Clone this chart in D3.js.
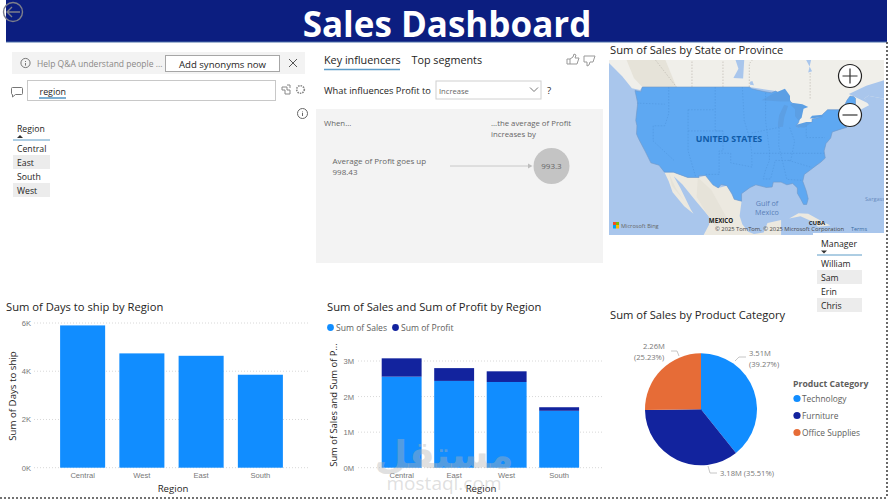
<!DOCTYPE html>
<html>
<head>
<meta charset="utf-8">
<script src="https://cdn.jsdelivr.net/npm/d3@7/dist/d3.min.js"></script>
<style>
html,body{margin:0;padding:0;background:#fff}
svg{display:block;font-family:"Open Sans","Noto Sans",sans-serif}
</style>
</head>
<body>
<svg id="dash" width="890" height="500"></svg>
<script>
// Shared category data
const shipRegions = ["Central", "West", "East", "South"];
const shipDays = [5900, 4740, 4640, 3855];
const shipTicks = [0, 2000, 4000, 6000];

const salesRegions = ["Central", "East", "West", "South"];
const salesValues = [2560000, 2440000, 2410000, 1600000];
const profitValues = [515000, 360000, 300000, 100000];
const salesTicks = [0, 1000000, 2000000, 3000000];

const pieCategories = ["Technology", "Furniture", "Office Supplies"];
const pieValues = [39.27, 35.51, 25.23];
const pieLabels = [["3.51M", "(39.27%)"], ["3.18M (35.51%)"], ["2.26M", "(25.23%)"]];

const regionRows = ["Central", "East", "South", "West"];
const managerRows = ["William", "Sam", "Erin", "Chris"];

// Map outlines, longitude then latitude
const usOutline = [[-124.7,48.4],[-123.2,48.2],[-122.8,49],[-95.2,49],[-94.6,48.7],[-92,48.3],[-89.5,48],[-88.4,48.3],[-84.9,46.9],[-84.5,46.4],[-83.5,45.9],[-82.5,45.3],[-82.1,43.6],[-82.5,42.6],[-83.1,42],[-82.7,41.7],[-79,42.7],[-79,43.3],[-76.8,43.6],[-76.2,44.2],[-75,45],[-71.5,45],[-70.8,45.4],[-70.3,46.2],[-70,46.7],[-69.2,47.45],[-68.3,47.35],[-67.8,47.05],[-67.8,45.7],[-67,44.9],[-68.5,44.3],[-70,43.7],[-70.7,43],[-70.8,42.2],[-70,41.7],[-71.4,41.4],[-73.8,40.8],[-74.2,39.6],[-75.4,38.5],[-75.9,37],[-75.6,35.5],[-76.8,34.6],[-78,33.9],[-79.4,33],[-81,32],[-81.4,30.5],[-80.5,28.3],[-80,26.5],[-80.4,25.2],[-81.2,25.2],[-81.9,26.4],[-82.8,27.8],[-82.8,29],[-84,30],[-85.5,29.7],[-87,30.3],[-89,30.3],[-89.3,29.2],[-90.8,29.1],[-93.5,29.7],[-95,29.1],[-97.2,27.7],[-97.2,25.95],[-99.1,26.4],[-99.6,27.6],[-101,29.5],[-102.5,29.75],[-103.2,29],[-104.6,29.7],[-106.5,31.75],[-108.2,31.75],[-108.2,31.33],[-111.1,31.33],[-114.8,32.5],[-117.1,32.5],[-118.5,34],[-120.6,34.5],[-122,36.8],[-123.8,39.5],[-124.3,40.4],[-124.2,42],[-124.5,43],[-124,46.2],[-124.7,48.4]];
const canadaLand = [[-135,62],[-60,62],[-60,46.9],[-64.5,47.5],[-65.5,47],[-64.3,45.8],[-66.5,45],[-67,44.9],[-67.8,45.7],[-67.8,47.05],[-70,46.7],[-71.5,45],[-75,45],[-76.8,43.6],[-79,43.3],[-79,42.7],[-83,42],[-82.1,43.6],[-82.5,45.3],[-84.5,46.4],[-88.4,48.3],[-95.2,49],[-122.8,49],[-123.4,48.5],[-125.5,48.8],[-128,50.8],[-135,55]];
const mexicoLand = [[-117.1,32.5],[-114.8,32.5],[-111.1,31.33],[-108.2,31.33],[-106.5,31.75],[-103.2,29],[-101,29.5],[-99.1,26.4],[-97.2,25.95],[-97.7,22.5],[-97,20.5],[-95.5,18.7],[-94,18.1],[-91.5,18.5],[-90.5,20.8],[-87,21.5],[-87,16],[-108,16],[-105.6,20.4],[-105.3,22],[-109,26],[-112.5,29.8],[-114.7,31.6],[-113,29],[-110.3,24],[-109.6,23],[-112,24.8],[-115,28],[-116,30.5]];
const cubaLand = [[-84.9,21.9],[-82.5,23.1],[-80,23],[-76,21],[-74.2,20.2],[-77.5,19.9],[-78.5,21],[-82,22.4]];
const reliefAreas = [
  [[-128,55],[-118,55],[-114,49],[-122.8,49],[-125,50.5]],
  [[-108.5,31.3],[-105,28.5],[-101,22],[-104,20],[-106.5,23.5],[-108.8,27]],
  [[-116,32.4],[-114.2,29],[-110.5,24],[-111.5,25.5],[-115.2,29.5]]
];
const greatLakes = [
  [[-92,46.7],[-89,47.9],[-86,48.7],[-84.7,47.5],[-84.7,46.5],[-87,46.5]],
  [[-87.8,41.7],[-86.5,41.8],[-86.2,43.5],[-85.2,45.7],[-86.2,45.9],[-87.5,44],[-87.8,42.5]],
  [[-84.6,45.9],[-83.4,45.1],[-83.4,43.8],[-82.5,43],[-81.7,43.5],[-81.2,45.2],[-80,45.5],[-81.5,46],[-83.8,46.2]],
  [[-83.2,41.8],[-81,41.6],[-79,42.7],[-80.5,42.7],[-83,42.2]],
  [[-79.6,43.4],[-76.3,43.6],[-76.3,44.1],[-79,43.9]]
];
const canadaLakes = [
  [[-99.3,50.5],[-96.8,50.4],[-96.5,53.5],[-99,53.8],[-98,52]],
  [[-95,49.4],[-94,49.3],[-94.4,50],[-95,49.9]],
  [[-80,51.4],[-79,51.6],[-82,55],[-85,56],[-88,57],[-93,58.5],[-94.5,62],[-78,62],[-77,56],[-79,54]],
  [[-69.5,47.8],[-65,49.2],[-60,50.2],[-60,46.9],[-64.5,47.5],[-65.5,47],[-64,46]]
];
const stateBorders = [
  [[-116,49],[-116,44.3],[-117,42],[-120,42],[-120,39],[-114.6,35]],
  [[-111,45],[-111,37],[-109,31.33]],
  [[-104,49],[-104,41],[-102,41],[-102,37],[-103,37],[-103,32],[-106.5,32]],
  [[-97,49],[-96.5,43],[-95.3,40],[-94.6,37],[-94.5,33.6],[-100,34.5],[-100,36.5],[-103,36.5]],
  [[-91,48],[-91,43],[-90,37],[-90,35],[-91,33],[-91.6,31],[-89.7,31],[-88.5,35],[-84.5,35],[-83.5,39],[-84.8,41.7]],
  [[-111,41],[-102,41]],[[-124.2,46.2],[-117,46]],[[-111,45],[-104,45]],[[-94.6,40.6],[-87.5,41.7]],
  [[-87.5,41.7],[-87.6,38],[-85.5,30.9],[-81.4,30.7]],[[-80.5,42],[-80.5,39.7],[-75.7,39.7]],[[-94,36.5],[-76,36.5]],[[-85,35],[-79,33.5]]
];
const canadaBorders = [
  [[-110,49],[-110,60]],[[-102,49],[-102,60]],[[-95.2,49],[-95.2,52.8],[-89,57]],
  [[-79.5,47],[-79.5,51.4]],[[-120,60],[-120,53.8],[-114,49]]
];

// Layout of the report tiles
const C = {navy:"#0c1e80", blue:"#118dff", dark:"#12239e", orange:"#e66c37", title:"#252423", axis:"#605e5c", grey:"#666", tile:"#f3f3f3", alt:"#ececec", line:"#5d9cc7"};
const svg = d3.select("#dash");
const txt = (x, y, s, size, fill, extra = {}) => {
  const t = svg.append("text").attr("x", x).attr("y", y).attr("font-size", size).attr("fill", fill).text(s);
  Object.entries(extra).forEach(([k, v]) => t.attr(k, v));
  return t;
};

// Banner
svg.append("rect").attr("x", 6).attr("y", 0).attr("width", 881).attr("height", 42).attr("fill", C.navy);
svg.append("line").attr("x1", 6).attr("x2", 887).attr("y1", 42).attr("y2", 42).attr("stroke", "#4a6fa8").attr("stroke-width", 1);
txt(447, 37, "Sales Dashboard", 35, "#fff", {"text-anchor": "middle", "font-weight": 700, "font-family": "'Open Sans'"});
const back = svg.append("g").attr("fill", "none").attr("stroke", "#7d7f8a").attr("stroke-width", 1.4);
back.append("circle").attr("cx", 13).attr("cy", 12).attr("r", 9.5);
back.append("path").attr("d", "M20 12H7M12 7l-5 5 5 5");

// Dotted page edges
const dotted = (x1, y1, x2, y2) => svg.append("line").attr("x1", x1).attr("y1", y1).attr("x2", x2).attr("y2", y2)
  .attr("stroke", "#444").attr("stroke-width", 1.6).attr("stroke-dasharray", "2 2");
dotted(0, 498, 888, 498);
dotted(887, 42, 887, 498);

// Q&A tile
svg.append("rect").attr("x", 12).attr("y", 52).attr("width", 293).attr("height", 22).attr("fill", C.tile);
svg.append("circle").attr("cx", 25.5).attr("cy", 63).attr("r", 4.6).attr("fill", "none").attr("stroke", "#777");
svg.append("path").attr("d", "M25.5 61v1M25.5 63v2.6").attr("stroke", "#777");
txt(37, 67, "Help Q&A understand people ...", 8.5, "#8a8886");
svg.append("rect").attr("x", 165.5).attr("y", 55.5).attr("width", 114).attr("height", 16).attr("fill", "#fff").attr("stroke", "#a6a6a6");
txt(222.5, 67.5, "Add synonyms now", 9.6, C.title, {"text-anchor": "middle"});
svg.append("path").attr("d", "M289 59l8 8M297 59l-8 8").attr("stroke", "#555").attr("fill", "none");
svg.append("path").attr("d", "M12.5 87.5h9a1 1 0 0 1 1 1v5a1 1 0 0 1-1 1h-6l-3 2.5v-2.5a1 1 0 0 1-1-1v-5a1 1 0 0 1 1-1z").attr("fill", "none").attr("stroke", "#777");
svg.append("rect").attr("x", 27.5).attr("y", 80.5).attr("width", 248).attr("height", 20).attr("fill", "#fff").attr("stroke", "#c8c8c8");
txt(39.5, 95, "region", 8.9, C.title);
svg.append("line").attr("x1", 39).attr("x2", 66).attr("y1", 98).attr("y2", 98).attr("stroke", C.line).attr("stroke-width", 1.6);
svg.append("path").attr("d", "M282 87h5v3h3v4h-5v-4M282 87v3h3M287 85h3v3").attr("fill", "none").attr("stroke", "#888");
svg.append("circle").attr("cx", 300.5).attr("cy", 89.5).attr("r", 3.8).attr("fill", "none").attr("stroke", "#888").attr("stroke-width", 1.6).attr("stroke-dasharray", "1.5 1");
svg.append("circle").attr("cx", 302.5).attr("cy", 113.5).attr("r", 5).attr("fill", "none").attr("stroke", "#666");
svg.append("path").attr("d", "M302.5 111.5v.8M302.5 113v3").attr("stroke", "#666");

// Key influencers tile
txt(324, 64, "Key influencers", 10.8, C.title);
txt(411.5, 64, "Top segments", 10.8, C.title);
svg.append("line").attr("x1", 324).attr("x2", 400).attr("y1", 69.5).attr("y2", 69.5).attr("stroke", C.line).attr("stroke-width", 1.6);
svg.append("path").attr("d", "M567 59h3v5h-3zM570 59l3-2 1-3 2 1-1 3h4l-2 6h-7").attr("fill", "none").attr("stroke", "#999");
svg.append("path").attr("d", "M584 56h11l-2 6h-3l-1 3-2 1v-4h-3z").attr("fill", "none").attr("stroke", "#999");
txt(324, 94, "What influences Profit to", 9.3, C.title);
svg.append("rect").attr("x", 436).attr("y", 81).attr("width", 105).attr("height", 18).attr("fill", "#fff").attr("stroke", "#d0d0d0");
txt(439, 93.5, "Increase", 7.6, "#666");
svg.append("path").attr("d", "M530 87.5l4 4 4-4").attr("fill", "none").attr("stroke", "#777");
txt(547, 94, "?", 9.6, C.title);
svg.append("rect").attr("x", 316).attr("y", 109).attr("width", 287).attr("height", 154).attr("fill", C.tile);
txt(324, 126, "When...", 7.8, "#666");
txt(491, 126, "...the average of Profit", 7.8, "#666");
txt(491, 137, "increases by", 7.8, "#666");
txt(332.5, 164, "Average of Profit goes up", 8, "#666");
txt(332.5, 175, "998.43", 8, "#666");
svg.append("line").attr("x1", 450).attr("x2", 530).attr("y1", 166).attr("y2", 166).attr("stroke", "#c8c8c8");
svg.append("path").attr("d", "M528 163.5l4.5 2.5-4.5 2.5z").attr("fill", "#bdbdbd");
svg.append("circle").attr("cx", 551.5).attr("cy", 166).attr("r", 18).attr("fill", "#c4c4c4");
txt(551.5, 169, "993.3", 8, "#666", {"text-anchor": "middle"});

// Map tile, drawn in a Mercator projection
txt(610, 54, "Sum of Sales by State or Province", 11.2, C.title);
svg.append("clipPath").attr("id", "mapClip").append("rect").attr("x", 609).attr("y", 60).attr("width", 275).attr("height", 175);
const mapG = svg.append("g").attr("clip-path", "url(#mapClip)");
const mercator = d3.geoMercator().scale(222).center([-124.7, 49]).translate([635, 87]);
const ring = pts => d3.line().curve(d3.curveLinearClosed)(pts.map(d => mercator(d)));
const open = pts => d3.line()(pts.map(d => mercator(d)));
mapG.append("rect").attr("x", 609).attr("y", 60).attr("width", 275).attr("height", 175).attr("fill", "#a9c6ec");
mapG.append("path").attr("d", ring(canadaLand)).attr("fill", "#f0efea");
mapG.append("path").attr("d", ring(mexicoLand)).attr("fill", "#ece9e0");
mapG.append("path").attr("d", ring(cubaLand)).attr("fill", "#ece9e0");
reliefAreas.forEach(a => mapG.append("path").attr("d", ring(a)).attr("fill", "#e6e3d9"));
canadaLakes.forEach(l => mapG.append("path").attr("d", ring(l)).attr("fill", "#a9c6ec"));
canadaBorders.forEach(b => mapG.append("path").attr("d", open(b)).attr("fill", "none").attr("stroke", "#bdb9b0").attr("stroke-width", .7).attr("stroke-dasharray", "1.5 1.5"));
mapG.append("path").attr("d", ring(usOutline)).attr("fill", "#5ea8f2").attr("stroke", "#6f97c8").attr("stroke-width", .6);
greatLakes.forEach(l => mapG.append("path").attr("d", ring(l)).attr("fill", "#5c9fe4"));
stateBorders.forEach(b => mapG.append("path").attr("d", open(b)).attr("fill", "none").attr("stroke", "#4f95dd").attr("stroke-width", .6).attr("stroke-dasharray", "1.5 1.5"));
txt(729, 142, "UNITED STATES", 8.8, "#0f5ba8", {"text-anchor": "middle", "font-weight": 700});
txt(767, 206, "Gulf of", 7.2, "#5a7fb8", {"text-anchor": "middle"});
txt(767, 214.5, "Mexico", 7.2, "#5a7fb8", {"text-anchor": "middle"});
txt(721, 223, "MEXICO", 6.2, "#222", {"text-anchor": "middle", "font-weight": 700});
txt(817, 225, "CUBA", 6, "#222", {"text-anchor": "middle", "font-weight": 700});
txt(865, 201, "Sargasso", 5.6, "#6a8cc0", {"clip-path": "url(#mapClip)"});
txt(715, 231, "© 2025 TomTom, © 2025 Microsoft Corporation", 5.8, "#444");
txt(851, 231, "Terms", 5.5, "#3a6ea5");
[["#f25022",613,222],["#7fba00",616,222],["#00a4ef",613,225],["#ffb900",616,225]].forEach(([c, x, y]) =>
  mapG.append("rect").attr("x", x).attr("y", y).attr("width", 3).attr("height", 3.5).attr("fill", c));
txt(621, 228, "Microsoft Bing", 5.6, "#666");
[[850, 76, true], [850, 115, false]].forEach(([x, y, plus]) => {
  svg.append("circle").attr("cx", x).attr("cy", y).attr("r", 11.5).attr("fill", "#fff").attr("stroke", "#222").attr("stroke-width", 1.2);
  svg.append("path").attr("d", plus ? `M${x-7.5} ${y}h15M${x} ${y-7.5}v15` : `M${x-7.5} ${y}h15`).attr("stroke", "#333").attr("stroke-width", 1.2);
});

// Slicer-style tables
function slicer(header, rows, x, w, y, textX, caret) {
  txt(textX, y, header, 8.7, C.title);
  svg.append("path").attr("d", caret).attr("fill", "#333");
  svg.append("line").attr("x1", x).attr("x2", x + w).attr("y1", y + 8).attr("y2", y + 8).attr("stroke", C.line);
  const rowH = 14;
  rows.forEach((r, i) => {
    const top = y + 9 + i * rowH;
    if (i % 2) svg.append("rect").attr("x", x).attr("y", top).attr("width", w).attr("height", rowH).attr("fill", C.alt);
    txt(textX, top + 10.5, r, 8.7, C.title);
  });
}
svg.append("rect").attr("x", 813).attr("y", 233).attr("width", 71).attr("height", 3).attr("fill", "#fff");
slicer("Region", regionRows, 13, 37, 132, 17, "M17 138l3-3 3 3z");
slicer("Manager", managerRows, 817, 45, 247, 821, "M821 250.5h6l-3 3z");

// Shared axis styling for both column charts
function styleAxes(g) {
  g.selectAll(".domain").remove();
  g.selectAll(".tick line").remove();
  g.selectAll("text").attr("fill", "#777").attr("font-size", 7.6);
}
const fmtK = d => (d / 1000) + "K";
const fmtM = d => (d / 1000000) + "M";

// Sum of Days to ship by Region
txt(6, 311, "Sum of Days to ship by Region", 11.2, C.title);
const x1 = d3.scaleBand().domain(shipRegions).range([53, 290]).paddingInner(0.24).paddingOuter(0.12);
const y1 = d3.scaleLinear().domain([0, 6000]).range([467.7, 323]);
const g1 = svg.append("g");
shipTicks.forEach(t => g1.append("line").attr("x1", 34).attr("x2", 309).attr("y1", y1(t)).attr("y2", y1(t)).attr("stroke", "#d8d8d8").attr("stroke-dasharray", "1 2"));
g1.selectAll("rect").data(shipRegions).join("rect").attr("x", d => x1(d)).attr("width", x1.bandwidth())
  .attr("y", (d, i) => y1(shipDays[i])).attr("height", (d, i) => y1(0) - y1(shipDays[i])).attr("fill", C.blue);
svg.append("g").attr("transform", "translate(31,0)").call(d3.axisLeft(y1).tickValues(shipTicks).tickFormat(fmtK).tickSize(0).tickPadding(0)).call(styleAxes);
svg.append("g").attr("transform", "translate(0,468)").call(d3.axisBottom(x1).tickSize(0).tickPadding(5)).call(styleAxes);
txt(173, 492, "Region", 9.6, C.title, {"text-anchor": "middle"});
txt(16, 396, "Sum of Days to ship", 9.7, C.title, {"text-anchor": "middle", transform: "rotate(-90 16 396)"});

// Sum of Sales and Sum of Profit by Region
txt(327, 311, "Sum of Sales and Sum of Profit by Region", 11.2, C.title);
svg.append("circle").attr("cx", 330.5).attr("cy", 327.5).attr("r", 3.4).attr("fill", C.blue);
txt(336, 331, "Sum of Sales", 8.6, C.axis);
svg.append("circle").attr("cx", 395.5).attr("cy", 327.5).attr("r", 3.4).attr("fill", C.dark);
txt(401, 331, "Sum of Profit", 8.6, C.axis);
const x2 = d3.scaleBand().domain(salesRegions).range([375.4, 585.4]).paddingInner(0.24).paddingOuter(0.12);
const y2 = d3.scaleLinear().domain([0, 3000000]).range([467.7, 361]);
const g2 = svg.append("g");
salesTicks.forEach(t => g2.append("line").attr("x1", 358).attr("x2", 602).attr("y1", y2(t)).attr("y2", y2(t)).attr("stroke", "#d8d8d8").attr("stroke-dasharray", "1 2"));
g2.selectAll("rect.sales").data(salesRegions).join("rect").attr("class", "sales").attr("x", d => x2(d)).attr("width", x2.bandwidth())
  .attr("y", (d, i) => y2(salesValues[i])).attr("height", (d, i) => y2(0) - y2(salesValues[i])).attr("fill", C.blue);
g2.selectAll("rect.profit").data(salesRegions).join("rect").attr("class", "profit").attr("x", d => x2(d)).attr("width", x2.bandwidth())
  .attr("y", (d, i) => y2(salesValues[i] + profitValues[i])).attr("height", (d, i) => y2(0) - y2(profitValues[i])).attr("fill", C.dark);
svg.append("g").attr("transform", "translate(354,0)").call(d3.axisLeft(y2).tickValues(salesTicks).tickFormat(fmtM).tickSize(0).tickPadding(0)).call(styleAxes);
svg.append("g").attr("transform", "translate(0,468)").call(d3.axisBottom(x2).tickSize(0).tickPadding(5)).call(styleAxes);
txt(481, 492, "Region", 9.6, C.title, {"text-anchor": "middle"});
txt(337, 405, "Sum of Sales and Sum of P...", 9.4, C.title, {"text-anchor": "middle", transform: "rotate(-90 337 405)"});

// Site watermark laid over the lower chart
const mark = svg.append("g").attr("fill", "#b4b4b4").attr("fill-opacity", .42).attr("text-anchor", "middle");
mark.append("text").attr("x", 444).attr("y", 468).attr("font-size", 38).attr("font-weight", 700).attr("font-family", "'Noto Sans','DejaVu Sans'").text("مستقل");
mark.append("text").attr("x", 444).attr("y", 490).attr("font-size", 19).text("mostaql.com");

// Sum of Sales by Product Category
txt(610, 319, "Sum of Sales by Product Category", 11.2, C.title);
const pieCx = 701, pieCy = 409.3, pieR = 56;
const pie = d3.pie().sort(null).value(d => d)(pieValues);
const arc = d3.arc().innerRadius(0).outerRadius(pieR);
const colors = d3.scaleOrdinal().domain(pieCategories).range([C.blue, C.dark, C.orange]);
svg.append("g").attr("transform", `translate(${pieCx},${pieCy})`).selectAll("path").data(pie).join("path")
  .attr("d", arc).attr("fill", (d, i) => colors(pieCategories[i]));
const leaders = [
  {path: [[735, 361], [739, 357], [746, 357]], lines: pieLabels[0], x: 749, y: 356, step: 11},
  {path: [[708, 466], [710, 473], [717, 473]], lines: pieLabels[1], x: 720, y: 476, step: 0},
  {path: [[679, 356], [677, 351], [671, 351]], lines: pieLabels[2], x: 634, y: 349, step: 11}
];
leaders.forEach(l => {
  svg.append("path").attr("d", d3.line()(l.path)).attr("fill", "none").attr("stroke", "#c6c6c6");
  l.lines.forEach((s, i) => {
    txt(l.x + (l.lines.length > 1 && l.x < 700 && !i ? 9 : 0), l.y + i * l.step, s, 7.6, "#777");
  });
});
txt(793, 387, "Product Category", 8.7, C.axis, {"font-weight": 700});
pieCategories.forEach((c, i) => {
  const yy = 398.5 + i * 17;
  svg.append("circle").attr("cx", 797).attr("cy", yy).attr("r", 3.6).attr("fill", colors(c));
  txt(802, yy + 3, c, 8.4, C.axis);
});
</script>
</body>
</html>
